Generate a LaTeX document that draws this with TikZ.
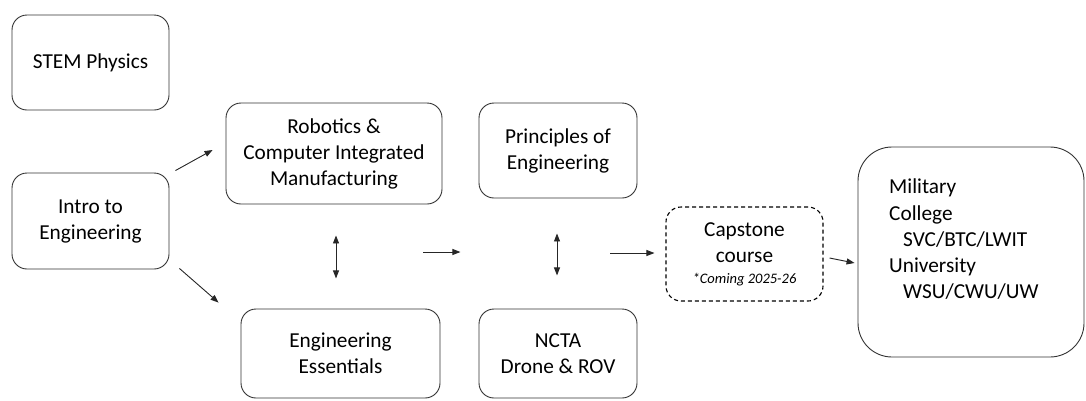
\documentclass[tikz,border=0pt]{standalone}
\usepackage{fontspec}
\setmainfont{Carlito}
\usetikzlibrary{arrows.meta,calc}
\tikzset{
  box/.style={rectangle, rounded corners=15pt, draw=black!80, line width=0.9pt, align=center,
              font=\fontsize{21.3}{26}\selectfont, inner sep=0pt},
  soon/.style={box, draw=black, line width=1.1pt, dash pattern=on 4pt off 3pt},
  arr/.style={-{Triangle[length=8pt, width=6pt]}, line width=0.9pt, black!85},
  dbl/.style={{Triangle[length=8pt, width=6pt]}-{Triangle[length=8pt, width=6pt]}, line width=0.9pt, black!85},
}

\begin{document}
\begin{tikzpicture}[x=1pt, y=-1pt]
\useasboundingbox (0,0) rectangle (1086,400);
% first column
\node[box, minimum width=157pt, minimum height=95pt] (stem) at (90.5,62.5) {STEM Physics};
\node[box, minimum width=157pt, minimum height=96pt] (intro) at (90.5,221) {Intro to\\Engineering};
% second column
\node[box, minimum width=216pt, minimum height=101pt] (robot) at (334,153.5) {Robotics \&\\Computer Integrated\\Manufacturing};
\node[box, minimum width=199pt, minimum height=89pt] (ess) at (340.5,353.5) {Engineering\\Essentials};
% third column
\node[box, minimum width=158pt, minimum height=95pt] (poe) at (558,150.5) {Principles of\\Engineering};
\node[box, minimum width=158pt, minimum height=89pt] (ncta) at (558,353.5) {NCTA\\Drone \& ROV};
% capstone and after
\node[soon, minimum width=157pt, minimum height=94pt] (cap) at (744.5,254)
  {Capstone\\course\\[-5pt]{\fontsize{14.5}{17}\selectfont\itshape *Coming 2025-26}};
\node[box, rounded corners=34pt, minimum width=226pt, minimum height=210pt] (dest) at (971,252) {};
\node[anchor=north west, inner sep=0pt, align=left, font=\fontsize{21.3}{26.2}\selectfont] (desttext) at (889,179)
  {Military\\College\\\hspace*{14pt}SVC/BTC/LWIT\\University\\\hspace*{14pt}WSU/CWU/UW};
% arrows
\draw[arr] ($(intro.north east)+(6,-2)$) -- ($(robot.west)+(-13,-3.5)$);
\draw[arr] ($(intro.south east)+(10,-1)$) -- ($(ess.north west)+(-22,-6)$);
\draw[dbl] ($(robot.south)+(2,31)$) -- ++(0,43);
\draw[arr] ($(robot.east|-cap.west)+(-19,-2)$) -- ++(37,0);
\draw[dbl] ($(poe.south)+(-1,35)$) -- ++(0,42);
\draw[arr] ($(cap.west)+(-55,-1)$) -- ($(cap.west)+(-11,-1)$);
\draw[arr] ($(cap.east)+(6,4)$) -- ($(dest.west)+(-3,11)$);
\end{tikzpicture}
\end{document}
